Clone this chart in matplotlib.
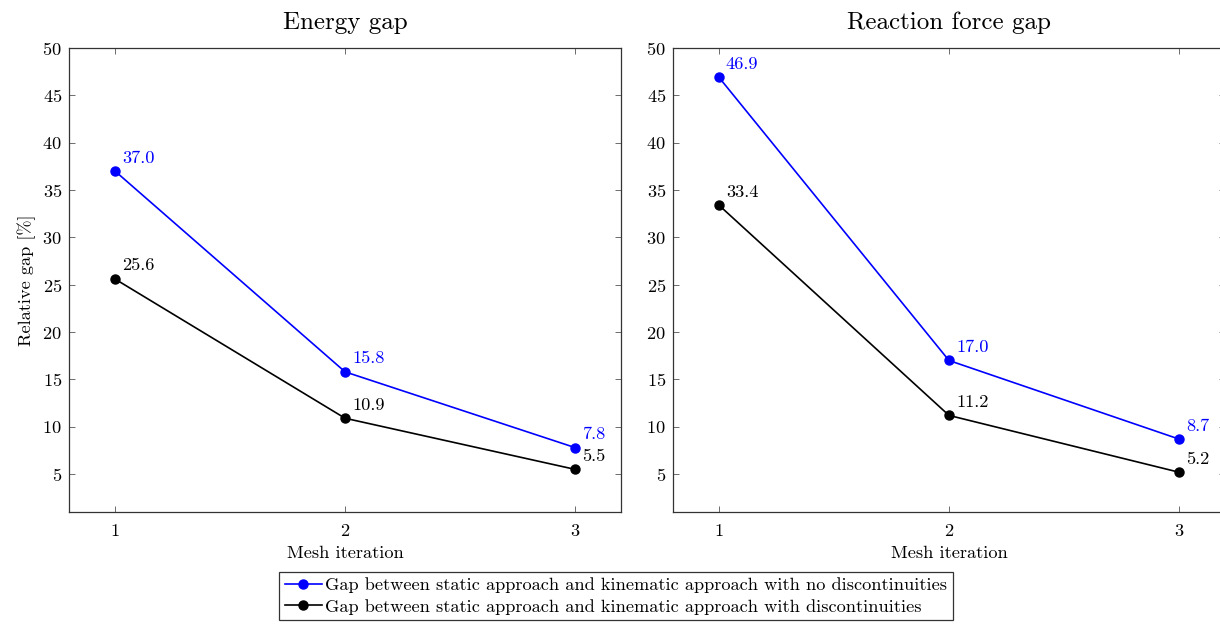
import matplotlib.pyplot as plt

plt.rcParams['font.family'] = ['cmr10', 'DejaVu Serif']
plt.rcParams['mathtext.fontset'] = 'cm'
plt.rcParams['axes.formatter.use_mathtext'] = True

# data
iterations = [1, 2, 3]
energy_no_disc = [37.0, 15.8, 7.8]
energy_disc = [25.6, 10.9, 5.5]
force_no_disc = [46.9, 17.0, 8.7]
force_disc = [33.4, 11.2, 5.2]
titles = ['Energy gap', 'Reaction force gap']
labels = ['Gap between static approach and kinematic approach with no discontinuities',
          'Gap between static approach and kinematic approach with discontinuities']

fs = 13.2

fig = plt.figure(figsize=(12.2, 6.24), dpi=100)
ax1 = fig.add_axes([0.0566, 0.1795, 0.4525, 0.7436])
ax2 = fig.add_axes([0.5516, 0.1795, 0.4525, 0.7436])

panels = [(ax1, energy_no_disc, energy_disc), (ax2, force_no_disc, force_disc)]

for k, (ax, s1, s2) in enumerate(panels):
    for vals, col, lab in [(s1, 'blue', labels[0]), (s2, 'black', labels[1])]:
        ax.plot(iterations, vals, color=col, lw=1.2, marker='o', ms=6.5, label=lab)
        for x, y in zip(iterations, vals):
            ax.annotate(f'{y:.1f}', (x, y), xytext=(5, 4), textcoords='offset points',
                        ha='left', va='bottom', color=col, fontsize=fs)
    ax.set_xlim(0.8, 3.2)
    ax.set_ylim(1, 50)
    ax.set_xticks(iterations)
    ax.set_yticks(range(5, 51, 5))
    ax.tick_params(direction='in', top=True, right=True, length=4, width=0.6,
                   labelsize=fs, color='#555555')
    ax.tick_params(axis='x', pad=8)
    ax.tick_params(axis='y', pad=5)
    for sp in ax.spines.values():
        sp.set_color('#333333')
        sp.set_linewidth(0.9)
    ax.set_title(titles[k], fontsize=18, pad=14)
    ax.set_xlabel('Mesh iteration', fontsize=fs, labelpad=5)

ax1.set_ylabel('Relative gap [%]', fontsize=fs, labelpad=5)

handles, labs = ax1.get_legend_handles_labels()
leg = fig.legend(handles, labs, loc='upper center', bbox_to_anchor=(616 / 1220, 1 - 572 / 624),
                 fontsize=fs, frameon=True, fancybox=False, edgecolor='black',
                 handlelength=2.0, handletextpad=0.2, borderpad=0.3, labelspacing=0.3,
                 borderaxespad=0)
leg.get_frame().set_linewidth(0.9)

fig.savefig('out.png', dpi=100)
